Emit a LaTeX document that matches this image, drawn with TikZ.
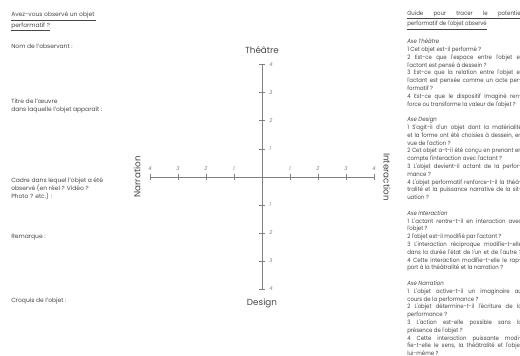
\documentclass[tikz,border=0pt]{standalone}
\usepackage{fontspec}
\setmainfont{Poppins}
\newfontfamily\guidefont{Poppins}[FakeStretch=0.9]
\definecolor{axisgray}{RGB}{128,128,128}
\definecolor{textgray}{RGB}{70,70,70}
\newlength\colw
\setlength\colw{86pt}
\newcommand\justline[1]{\makebox[\colw][s]{#1}}

\begin{document}
\begin{tikzpicture}[x=0.75pt,y=0.75pt,yscale=-1,xscale=1,
  axisline/.style={draw=axisgray,line width=0.75},
  ticknum/.style={font=\fontsize{4}{4}\selectfont\itshape,text=axisgray,inner sep=0.75pt},
  axename/.style={font=\fontsize{6.6}{7}\selectfont,text=textgray,inner sep=0.75pt},
  notes/.style={anchor=north west,inner sep=0pt,align=left,text=textgray,font=\fontsize{4.5}{5.9}\selectfont}]
\path[use as bounding box] (0,0) rectangle (520,356);
\clip (0,0) rectangle (520,356);

%Axis ends
\coordinate (O) at (262,177);
\coordinate (top) at (262,65);
\coordinate (bottom) at (262,289);
\coordinate (left) at (150,177);
\coordinate (right) at (374,177);

%Straight Lines
\draw [axisline] (top) -- (bottom) ;
\draw [axisline] (left) -- (right) ;

%Ticks with their numbers
\foreach \i in {1,...,4} {
  \draw [axisline] (259,{177-28*\i}) -- (265,{177-28*\i}) ;
  \draw [axisline] (259,{177+28*\i}) -- (265,{177+28*\i}) ;
  \draw [axisline] ({262+28*\i},174) -- ({262+28*\i},180) ;
  \draw [axisline] ({262-28*\i},174) -- ({262-28*\i},180) ;
  \draw (268,{177-28*\i}) node [anchor=west][ticknum] (th\i) {\i};
  \draw (268,{177+28*\i}) node [anchor=west][ticknum] (de\i) {\i};
  \draw ({262+28*\i},172) node [anchor=south][ticknum] (in\i) {\i};
  \draw ({262-28*\i},172) node [anchor=south][ticknum] (na\i) {\i};
}

% Axis names
\draw (262,50) node [axename] (theatre) {Théâtre};
\draw (262,303) node [axename] (design) {Design};
\draw (137,177) node [axename,rotate=90] (narration) {Narration};
\draw (387,177) node [axename,rotate=-90] (interaction) {Interaction};

% Text Node: form on the left
\draw (11,12) node [notes] (avez) {\underline{Avez-vous observé un objet\ }\\ \underline{performatif ?}};
\draw (11,43.5) node [notes] (nom) {Nom de l'observant :};
\draw (11,98.5) node [notes] (titre) {Titre de l'œuvre\\ dans laquelle l'objet apparaît :};
\draw (11,178) node [notes] (cadre) {Cadre dans lequel l'objet a été\\ observé (en réel ? Vidéo ?\\ Photo ? etc.) :};
\draw (11,234) node [notes] (remarque) {Remarque :};
\draw (11,298) node [notes] (croquis) {Croquis de l'objet :};

% Text Node: guide on the right
\draw (407,10.5) node [notes,font=\guidefont\fontsize{4.5}{5.85}\selectfont] (guide) {\underline{\justline{Guide pour tracer le potentiel}}\\
\underline{performatif de l'objet observé}\\[5.85pt]
{\itshape Axe Théâtre}\\
1 Cet objet est-il performé ?\\
\justline{2 Est-ce que l'espace entre l'objet et}\\
l'actant est pensé à dessein ?\\
\justline{3 Est-ce que la relation entre l'objet et}\\
\justline{l'actant est pensée comme un acte per-}\\
formatif ?\\
\justline{4 Est-ce que le dispositif imaginé ren-}\\
force ou transforme la valeur de l'objet ?\\[5.85pt]
{\itshape Axe Design}\\
\justline{1 S'agit-il d'un objet dont la matérialité}\\
\justline{et la forme ont été choisies à dessein, en}\\
vue de l'action ?\\
\justline{2 Cet objet a-t-il été conçu en prenant en}\\
compte l'interaction avec l'actant ?\\
\justline{3 L'objet devient-il actant de la perfor-}\\
mance ?\\
\justline{4 L'objet performatif renforce-t-il la théâ-}\\
\justline{tralité et la puissance narrative de la sit-}\\
uation ?\\[5.85pt]
{\itshape Axe Interaction}\\
\justline{1 L'actant rentre-t-il en interaction avec}\\
l'objet ?\\
2 l'objet est-il modifié par l'actant ?\\
\justline{3 L'interaction réciproque modifie-t-elle}\\
\justline{dans la durée l'état de l'un et de l'autre ?}\\
\justline{4 Cette interaction modifie-t-elle le rap-}\\
port à la théâtralité et la narration ?\\[5.85pt]
{\itshape Axe Narration}\\
\justline{1 L'objet active-t-il un imaginaire au}\\
cours de la performance ?\\
\justline{2 L'objet détermine-t-il l'écriture de la}\\
performance ?\\
\justline{3 L'action est-elle possible sans la}\\
présence de l'objet ?\\
\justline{4 Cette interaction puissante modi-}\\
\justline{fie-t-elle le sens, la théâtralité et l'objet}\\
lui-même ?};

\end{tikzpicture}
\end{document}
